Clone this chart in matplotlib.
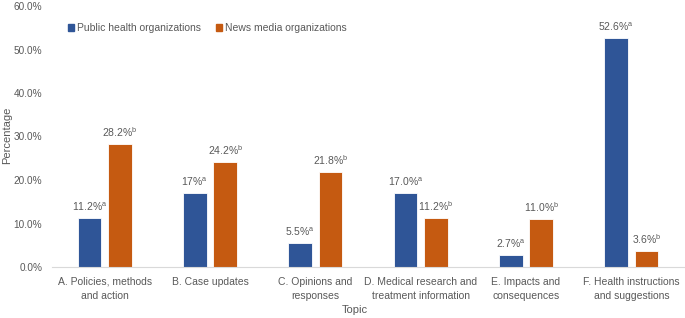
import numpy as np
import matplotlib
matplotlib.use("Agg")
import matplotlib.pyplot as plt
from matplotlib.patches import Patch

topics = ["A. Policies, methods\nand action", "B. Case updates", "C. Opinions and\nresponses",
          "D. Medical research and\ntreatment information", "E. Impacts and\nconsequences",
          "F. Health instructions\nand suggestions"]
public_health = [11.2, 17.0, 5.5, 17.0, 2.7, 52.6]
news_media = [28.2, 24.2, 21.8, 11.2, 11.0, 3.6]
public_labels = ["11.2%", "17%", "5.5%", "17.0%", "2.7%", "52.6%"]
news_labels = ["28.2%", "24.2%", "21.8%", "11.2%", "11.0%", "3.6%"]
series_names = ["Public health organizations", "News media organizations"]

blue = "#2F5597"
orange = "#C55A11"
gray = "#595959"

plt.rcParams['font.family'] = ['Liberation Sans', 'DejaVu Sans']
plt.rcParams['mathtext.fontset'] = 'custom'
plt.rcParams['mathtext.rm'] = 'Liberation Sans'
fs = 7.5

fig = plt.figure(figsize=(6.85, 3.18), dpi=100)
ax = fig.add_axes([52/685, 1 - 267/318, 632/685, 261/318])

x = np.arange(len(topics))
w = 0.225
off = 0.145
ax.bar(x - off, public_health, w, color=blue, edgecolor="white", linewidth=0.6)
ax.bar(x + off, news_media, w, color=orange, edgecolor="white", linewidth=0.6)

for i in range(len(topics)):
    ax.text(x[i] - off, public_health[i] + 1.2, public_labels[i] + r"$^\mathrm{a}$",
            ha="center", va="bottom", fontsize=fs, color=gray)
    ax.text(x[i] + off, news_media[i] + 1.2, news_labels[i] + r"$^\mathrm{b}$",
            ha="center", va="bottom", fontsize=fs, color=gray)

ax.set_xlim(-0.5, len(topics) - 0.5)
ax.set_ylim(0, 60)
ax.set_yticks(np.arange(0, 61, 10))
ax.set_yticklabels([f"{v:.1f}%" for v in np.arange(0, 61, 10)])
ax.set_xticks(x)
ax.set_xticklabels(topics, linespacing=1.55)
ax.tick_params(axis="both", length=0, labelsize=fs, colors=gray)
ax.tick_params(axis="x", pad=7)
ax.tick_params(axis="y", pad=7, labelsize=7.2)
for s in ["top", "right", "left"]:
    ax.spines[s].set_visible(False)
ax.spines["bottom"].set_color("#D9D9D9")

fig.text(7/685, 1 - 135/318, "Percentage", rotation=90, ha="center", va="center",
         fontsize=8, color=gray)
fig.text(355/685, 1 - 310/318, "Topic", ha="center", va="center", fontsize=8, color=gray)

handles = [Patch(color=blue), Patch(color=orange)]
ax.legend(handles, series_names, loc="upper left", bbox_to_anchor=(0.01, 0.97), ncol=2,
          frameon=False, fontsize=fs, labelcolor=gray, handlelength=0.6, handleheight=0.6,
          handletextpad=0.3, columnspacing=1.4)

fig.savefig("out.png", dpi=100)
